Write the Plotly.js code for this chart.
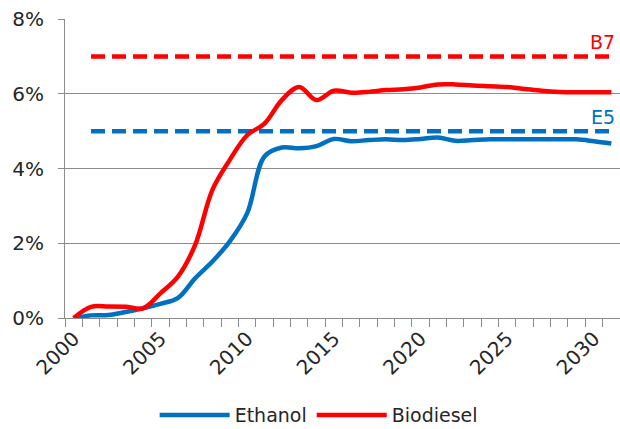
<!DOCTYPE html>
<html>
<head>
<meta charset="utf-8">
<script src="https://cdn.plot.ly/plotly-3.0.1.min.js"></script>
<style>html,body{margin:0;padding:0;background:#fff;}#chart{width:620px;height:429px;}</style>
</head>
<body>
<div id="chart"></div>
<script>
const years = [2000,2001,2002,2003,2004,2005,2006,2007,2008,2009,2010,2011,2012,2013,2014,2015,2016,2017,2018,2019,2020,2021,2022,2023,2024,2025,2026,2027,2028,2029,2030,2031];
const ethanol = [0.00,0.07,0.08,0.16,0.26,0.38,0.53,1.06,1.51,2.05,2.80,4.32,4.56,4.54,4.60,4.79,4.73,4.76,4.78,4.76,4.79,4.83,4.74,4.76,4.78,4.78,4.78,4.78,4.78,4.78,4.73,4.67];
const biodiesel = [0.00,0.30,0.31,0.30,0.26,0.66,1.10,1.95,3.43,4.23,4.89,5.20,5.83,6.18,5.83,6.08,6.03,6.05,6.10,6.12,6.17,6.25,6.25,6.22,6.20,6.18,6.13,6.08,6.05,6.04,6.04,6.04];
const e5Target = [null,5,5,5,5,5,5,5,5,5,5,5,5,5,5,5,5,5,5,5,5,5,5,5,5,5,5,5,5,5,5,5];
const b7Target = [null,7,7,7,7,7,7,7,7,7,7,7,7,7,7,7,7,7,7,7,7,7,7,7,7,7,7,7,7,7,7,7];
const seriesNames = ["Ethanol","Biodiesel"];
const targetLabels = ["E5","B7"];
const yTickVals = [0,2,4,6,8];
const yTickText = ["0%","2%","4%","6%","8%"];
const xTickVals = [2000,2005,2010,2015,2020,2025,2030];

const blue = "#0070C0", red = "#FF0000";
const traces = [
  {x: years, y: e5Target, mode: "lines", line: {color: blue, width: 4.5, dash: "14px,7px"}, showlegend: false, hoverinfo: "skip"},
  {x: years, y: b7Target, mode: "lines", line: {color: red, width: 4.5, dash: "14px,7px"}, showlegend: false, hoverinfo: "skip"},
  {x: years, y: ethanol, name: seriesNames[0], mode: "lines", line: {color: blue, width: 4.5, shape: "spline", smoothing: 1}},
  {x: years, y: biodiesel, name: seriesNames[1], mode: "lines", line: {color: red, width: 4.5, shape: "spline", smoothing: 1}}
];
const layout = {
  width: 620, height: 429,
  margin: {l: 65, r: 0, t: 19, b: 111, autoexpand: false},
  paper_bgcolor: "#fff", plot_bgcolor: "#fff",
  font: {family: "DejaVu Sans, Verdana, sans-serif", size: 20, color: "#262626"},
  xaxis: {
    range: [1999.5, 2031.5], tickmode: "array", tickvals: xTickVals, ticktext: xTickVals.map(String),
    tickangle: -45, ticks: "", showgrid: false, zeroline: false,
    showline: true, linecolor: "#8c8c8c", linewidth: 1,
    minor: {tick0: 1999.5, dtick: 1, ticks: "outside", ticklen: 8, tickcolor: "#8c8c8c", showgrid: false},
    fixedrange: true
  },
  yaxis: {
    range: [0, 8], tickmode: "array", tickvals: yTickVals, ticktext: yTickText,
    ticks: "outside", ticklen: 6, tickcolor: "#8c8c8c", ticklabelstandoff: 10,
    showgrid: true, gridcolor: "#8c8c8c", gridwidth: 1, zeroline: false,
    showline: true, linecolor: "#8c8c8c", linewidth: 1, fixedrange: true
  },
  legend: {orientation: "h", x: 0.457, xanchor: "center", y: -0.325, yanchor: "middle", itemwidth: 70, font: {size: 19}},
  annotations: [
    {x: years[years.length-1], y: 5, xref: "x", yref: "y", text: targetLabels[0], showarrow: false, xanchor: "right", yanchor: "bottom", xshift: 6, yshift: 1, font: {color: blue, size: 19}},
    {x: years[years.length-1], y: 7, xref: "x", yref: "y", text: targetLabels[1], showarrow: false, xanchor: "right", yanchor: "bottom", xshift: 6, yshift: 1, font: {color: red, size: 19}}
  ],
  showlegend: true
};
Plotly.newPlot("chart", traces, layout, {staticPlot: true, displayModeBar: false});
</script>
</body>
</html>
